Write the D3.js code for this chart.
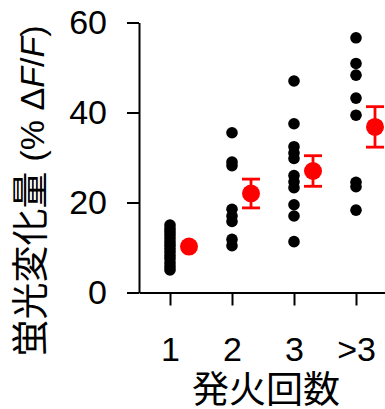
<!DOCTYPE html>
<html><head><meta charset="utf-8">
<script src="https://cdn.jsdelivr.net/npm/d3@7"></script>
<style>html,body{margin:0;padding:0;background:#fff;}</style>
</head><body>
<svg id="c" width="385" height="409"></svg>
<script>
const categories = ["1", "2", "3", ">3"];
const points1 = [15.0, 14.2, 13.5, 12.8, 12.0, 11.2, 10.5, 9.8, 9.0, 8.2, 7.5, 6.6, 5.8, 5.0];
const points2 = [35.5, 29.0, 28.2, 18.5, 17.0, 15.8, 11.8, 10.4];
const points3 = [47.0, 37.5, 32.4, 31.0, 29.8, 26.0, 24.6, 23.3, 19.5, 17.0, 11.3];
const points4 = [56.6, 50.9, 48.3, 43.2, 39.4, 24.5, 23.5, 18.3];
const means = [10.2, 22.0, 27.0, 36.8];
const sems = [0, 3.2, 3.4, 4.5];
const yTicks = [0, 20, 40, 60];
const groups = [points1, points2, points3, points4];

const svg = d3.select("#c");
const x = d3.scalePoint().domain(categories).range([139, 387]).padding(0.5);
const y = d3.scaleLinear().domain([0, 60]).range([292.5, 22.5]);
const meanOffset = 19;
const numFont = "'Liberation Sans', Arial, sans-serif";
const cjkFont = "'Noto Sans CJK JP', 'Noto Sans CJK SC', sans-serif";

// axes
const yAxis = svg.append("g").attr("transform", "translate(139,0)")
  .call(d3.axisLeft(y).tickValues(yTicks).tickSize(12).tickSizeOuter(0).tickPadding(20));
const xAxis = svg.append("g").attr("transform", "translate(0,292.5)")
  .call(d3.axisBottom(x).tickSize(13).tickSizeOuter(0).tickPadding(31));
[yAxis, xAxis].forEach(g => {
  g.selectAll("path.domain").attr("stroke", "#000").attr("stroke-width", 2);
  g.selectAll(".tick line").attr("stroke", "#000").attr("stroke-width", 2);
  g.selectAll(".tick text").attr("fill", "#000").style("font-family", numFont).style("font-size", "34px");
});

// data points
groups.forEach((vals, i) => {
  svg.append("g").selectAll("circle").data(vals).join("circle")
    .attr("cx", x(categories[i])).attr("cy", d => y(d)).attr("r", 5.8).attr("fill", "#000");
});

// mean +- sem
const mg = svg.append("g");
categories.forEach((c, i) => {
  const cx = x(c) + meanOffset;
  if (sems[i] > 0) {
    const top = y(means[i] + sems[i]), bot = y(means[i] - sems[i]);
    mg.append("line").attr("x1", cx).attr("x2", cx).attr("y1", top).attr("y2", bot)
      .attr("stroke", "#ff0000").attr("stroke-width", 2.8);
    [top, bot].forEach(yy => mg.append("line").attr("x1", cx - 9).attr("x2", cx + 9)
      .attr("y1", yy).attr("y2", yy).attr("stroke", "#ff0000").attr("stroke-width", 2.8));
  }
  mg.append("circle").attr("cx", cx).attr("cy", y(means[i])).attr("r", 9).attr("fill", "#ff0000");
});

// titles
svg.append("text").attr("x", 266).attr("y", 403).attr("text-anchor", "middle")
  .style("font-family", cjkFont).style("font-size", "37px").attr("fill", "#000").text("発火回数");

const yl = svg.append("text").attr("transform", "translate(44,191) rotate(-90)")
  .attr("text-anchor", "middle").attr("fill", "#000").style("font-size", "34px");
yl.append("tspan").style("font-family", cjkFont).style("font-size", "37px").text("蛍光変化量");
yl.append("tspan").attr("dx", 10).style("font-family", numFont).text("(% Δ");
yl.append("tspan").style("font-family", numFont).style("font-style", "italic").text("F");
yl.append("tspan").style("font-family", numFont).text("/");
yl.append("tspan").style("font-family", numFont).style("font-style", "italic").text("F");
yl.append("tspan").style("font-family", numFont).text(")");
</script>
</body></html>
